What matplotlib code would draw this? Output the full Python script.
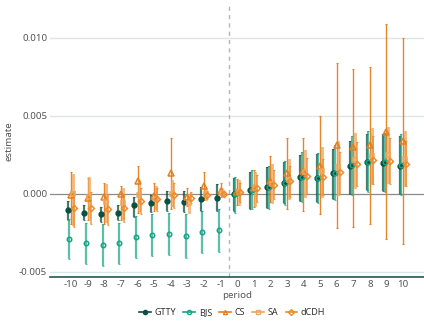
import matplotlib
matplotlib.use("Agg")
import matplotlib.pyplot as plt
from matplotlib.lines import Line2D
import numpy as np

plt.rcParams['font.family'] = ['Noto Sans', 'DejaVu Sans']

periods = list(range(-10, 11))

gtty_est = [-0.00105, -0.00123, -0.00131, -0.0012, -0.00074, -0.0006, -0.00047, -0.00051, -0.00034, -0.00024,
            -0.00002, 0.00023, 0.00042, 0.00067, 0.00106, 0.001, 0.00131, 0.0018, 0.00203, 0.002, 0.0018]
gtty_lo = [-0.00165, -0.0017, -0.0018, -0.0017, -0.0015, -0.00117, -0.0011, -0.00117, -0.0011, -0.0011,
           -0.0011, -0.00095, -0.0009, -0.0006, -0.00043, -0.00053, -0.0003, 0.0, 0.00025, 0.00017, 0.0]
gtty_hi = [-0.00045, -0.00074, -0.00085, -0.0007, -0.0002, -0.00005, 0.00017, 0.00017, 0.00042, 0.00063,
           0.001, 0.00137, 0.0017, 0.00205, 0.0025, 0.00254, 0.0029, 0.0034, 0.0038, 0.0038, 0.0037]

bjs_est = [-0.0029, -0.00318, -0.00328, -0.00318, -0.00276, -0.00263, -0.00257, -0.00267, -0.00246, -0.00233,
           0.0, 0.00025, 0.00045, 0.0007, 0.0011, 0.00102, 0.00135, 0.00182, 0.00205, 0.00202, 0.00182]
bjs_lo = [-0.0042, -0.0045, -0.0046, -0.0045, -0.0041, -0.004, -0.0039, -0.0041, -0.0038, -0.0037,
          -0.0012, -0.001, -0.00095, -0.0007, -0.0005, -0.0006, -0.0004, -0.0001, 0.0001, 0.0001, -0.0001]
bjs_hi = [-0.0016, -0.00187, -0.00195, -0.00187, -0.0014, -0.0013, -0.00125, -0.0013, -0.0011, -0.001,
          0.0011, 0.0015, 0.0018, 0.0021, 0.0027, 0.0026, 0.0031, 0.0037, 0.004, 0.0039, 0.0038]

cs_est = [-0.00005, -0.00025, -0.0002, -0.00004, 0.00085, -0.00017, 0.00133, -0.0002, 0.00053, 0.00017,
          0.0001, 0.00038, 0.00085, 0.00133, 0.00144, 0.0018, 0.00313, 0.003, 0.00313, 0.00398, 0.0034]
cs_lo = [-0.0019, -0.0017, -0.0019, -0.0017, -0.0012, -0.0011, -0.00095, -0.0008, -0.0004, -0.0002,
         -0.0007, -0.00085, -0.0005, -0.001, -0.0011, -0.0013, -0.0022, -0.0021, -0.0019, -0.0029, -0.0032]
cs_hi = [0.0014, 0.001, 0.0007, 0.0005, 0.0018, 0.0007, 0.0036, 0.0004, 0.0014, 0.0007,
         0.00095, 0.0015, 0.0024, 0.0036, 0.0036, 0.005, 0.0084, 0.008, 0.0081, 0.0109, 0.00995]

sa_est = [0.0, -0.0002, -0.00053, -0.00057, -0.0001, -0.00032, 0.0, -0.0006, 0.0, 0.00006,
          0.0001, 0.00035, 0.0006, 0.00089, 0.00137, 0.00144, 0.00169, 0.00216, 0.0024, 0.0025, 0.0022]
sa_lo = [-0.002, -0.0016, -0.0018, -0.0016, -0.0011, -0.001, -0.0008, -0.0012, -0.0004, -0.0002,
         -0.0007, -0.0008, -0.0006, -0.0003, -0.0002, -0.0002, -0.0001, 0.0004, 0.0006, 0.0007, 0.0005]
sa_hi = [0.0013, 0.0011, 0.0006, 0.0004, 0.0009, 0.0005, 0.0009, 0.0, 0.0004, 0.0004,
         0.0009, 0.0014, 0.0019, 0.0022, 0.0028, 0.003, 0.0034, 0.0039, 0.0042, 0.0043, 0.004]

dcdh_est = [-0.00092, -0.00093, -0.001, -0.00093, -0.00047, -0.00036, -0.0001, -0.00025, -0.00005, 0.0,
            0.0001, 0.00035, 0.00057, 0.0008, 0.00116, 0.00106, 0.00137, 0.0019, 0.00216, 0.0021, 0.00194]
dcdh_lo = [-0.0021, -0.0019, -0.002, -0.0018, -0.0013, -0.0011, -0.0009, -0.0006, -0.0003, -0.0001,
           -0.0005, -0.0005, -0.0003, -0.0002, 0.0, -0.0001, 0.0, 0.0005, 0.0006, 0.0006, 0.0005]
dcdh_hi = [0.0002, 0.0001, 0.0, 0.0, 0.0004, 0.0004, 0.0007, 0.0001, 0.0002, 0.0001,
           0.0007, 0.0012, 0.0015, 0.0018, 0.0023, 0.0022, 0.0027, 0.0033, 0.0037, 0.0036, 0.0034]

estimators = ["GTTY", "BJS", "CS", "SA", "dCDH"]
series = {
    "GTTY": (gtty_est, gtty_lo, gtty_hi),
    "BJS": (bjs_est, bjs_lo, bjs_hi),
    "CS": (cs_est, cs_lo, cs_hi),
    "SA": (sa_est, sa_lo, sa_hi),
    "dCDH": (dcdh_est, dcdh_lo, dcdh_hi),
}
style = {
    "GTTY": dict(color="#0b5040", marker="o", mfc="#0b5040", lw=1.6, alpha=0.75, ms=3.4),
    "BJS": dict(color="#19a385", marker="o", mfc="none", lw=1.6, alpha=0.7, ms=3.2),
    "CS": dict(color="#e67e1e", marker="^", mfc="none", lw=1.0, alpha=0.95, ms=3.8),
    "SA": dict(color="#f0a65c", marker="s", mfc="none", lw=2.2, alpha=0.75, ms=3.2),
    "dCDH": dict(color="#ec8a2c", marker="D", mfc="none", lw=1.2, alpha=0.8, ms=3.0),
}
offsets = [-0.2, -0.1, 0.0, 0.1, 0.2]

fig = plt.figure(figsize=(4.24, 3.22), dpi=100)
ax = fig.add_axes([0.118, 0.14, 0.882, 0.845])

ax.set_xlim(-11.27, 11.26)
ax.set_ylim(-0.00532, 0.0121)

for yv in [-0.005, 0.005, 0.010]:
    ax.axhline(yv, color="#dde7e4", lw=1.0, zorder=0)
ax.axhline(0, color="#8a8a8a", lw=0.9, zorder=1)
ax.axvline(-0.5, color="#b5b5b5", lw=1.0, ls=(0, (3, 3)), zorder=1)

p = np.array(periods, dtype=float)
for name, off in zip(estimators, offsets):
    est, lo, hi = (np.array(a) for a in series[name])
    st = style[name]
    x = p + off
    ax.errorbar(x, est, yerr=[est - lo, hi - est], fmt="none", ecolor=st["color"],
                elinewidth=st["lw"], alpha=st["alpha"], capsize=1.0, capthick=0.8, zorder=2)
    ax.plot(x, est, ls="none", marker=st["marker"], ms=st["ms"], mec=st["color"],
            mfc=st["mfc"], mew=1.1, zorder=3)

for s in ["top", "right", "left"]:
    ax.spines[s].set_visible(False)
ax.spines["bottom"].set_color("#1d5e4c")
ax.spines["bottom"].set_linewidth(1.2)

ax.set_xticks(periods)
ax.set_xticklabels([str(v) for v in periods])
ax.set_yticks([-0.005, 0.0, 0.005, 0.010])
ax.set_yticklabels(["-0.005", "0.000", "0.005", "0.010"])
ax.tick_params(axis="both", length=0, labelsize=7, colors="#555555", pad=2)
ax.set_xlabel("period", fontsize=7, color="#555555", labelpad=2)
ax.set_ylabel("estimate", fontsize=7, color="#555555", labelpad=4)

handles = [Line2D([0], [0], color=style[n]["color"], marker=style[n]["marker"], mfc=style[n]["mfc"],
                  mec=style[n]["color"], ms=3.0, lw=1.2, mew=1.0) for n in estimators]
fig.legend(handles, estimators, loc="center", bbox_to_anchor=(0.548, 0.028), ncol=5, frameon=False,
           fontsize=6.5, handlelength=1.3, handletextpad=0.4, columnspacing=0.8,
           labelcolor="#333333")

fig.savefig("out.png", dpi=100)
